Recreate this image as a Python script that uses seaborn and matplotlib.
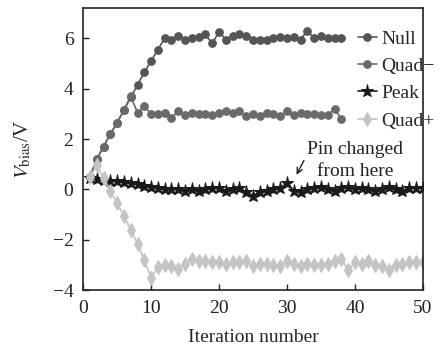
import seaborn as sns
from matplotlib import pyplot as plt
import pandas as pd

# values
null_vals = [0.5, 1.2, 1.7, 2.2, 2.65, 3.15, 3.65, 4.15, 4.65, 5.1, 5.55,
             6.0, 5.95, 6.1, 5.95, 6.0, 6.05, 6.15, 5.8, 6.25, 5.95, 6.1, 6.15,
             6.1, 5.95, 5.95, 5.95, 6.0, 6.05, 6.0, 6.05, 5.95, 6.3, 6.0, 6.1,
             6.0, 6.0, 6.0]
quad_minus = [0.5, 1.2, 1.7, 2.2, 2.65, 3.15, 3.7, 3.05, 3.3, 3.0, 3.0,
              3.05, 2.85, 3.1, 2.95, 3.05, 3.0, 3.0, 2.95, 3.05, 3.1, 3.05, 3.1,
              2.9, 3.0, 2.9, 3.05, 3.0, 2.9, 3.1, 2.95, 3.05, 3.0, 3.0, 2.95,
              2.95, 3.2, 2.8]
peak_vals = [0.45, 0.4, 0.38, 0.35, 0.32, 0.28, 0.25, 0.2, 0.15, 0.1, 0.05,
             0.03, 0.0, 0.0, -0.05, 0.0, -0.05, 0.0, 0.05, 0.05, -0.05, 0.0,
             0.05, -0.1, -0.25, -0.1, -0.05, 0.0, 0.05, 0.25, -0.05, -0.1, 0.0,
             0.05, 0.1, 0.0, -0.05, 0.05, 0.1, 0.0, 0.05, 0.0, -0.05, 0.0, 0.1,
             0.0, -0.05, 0.05, 0.05, 0.05]
quad_plus = [0.5, 0.95, 0.45, -0.05, -0.55, -1.05, -1.6, -2.15, -2.8, -3.5,
             -3.1, -3.0, -3.05, -3.15, -2.95, -2.75, -2.85, -2.85, -2.9, -2.9,
             -2.95, -2.9, -2.9, -2.85, -3.05, -2.95, -2.95, -3.0, -3.05, -2.85,
             -2.95, -3.05, -2.95, -3.0, -3.0, -2.95, -2.85, -2.75, -3.2, -2.9,
             -2.95, -2.85, -3.0, -3.05, -3.2, -3.0, -2.95, -2.9, -2.9, -2.9]

sns.set_style('ticks')
plt.rcParams['font.family'] = ['Liberation Serif', 'DejaVu Serif']
plt.rcParams['mathtext.fontset'] = 'stix'

fig = plt.figure(figsize=(4.4, 3.5), dpi=100)
ax = fig.add_axes([0.189, 0.171, 0.772, 0.806])

series = [
    ('Null', null_vals, '#555555', 'o', 5.5),
    ('Quad\u2212', quad_minus, '#6a6a6a', 'o', 5.5),
    ('Peak', peak_vals, '#1a1a1a', '*', 9.5),
    ('Quad+', quad_plus, '#c4c4c4', 'd', 7),
]
for name, vals, color, marker, ms in series:
    df = pd.DataFrame({'iter': range(1, len(vals) + 1), 'v': vals})
    sns.lineplot(data=df, x='iter', y='v', ax=ax, color=color, marker=marker,
                 markersize=ms, markeredgecolor=color, linewidth=1.2, label=name)

ax.set_xlim(0, 50)
ax.set_ylim(-4, 7.2)
ax.set_xticks([0, 10, 20, 30, 40, 50])
ax.set_yticks([-4, -2, 0, 2, 4, 6])
ax.set_yticklabels(['\u22124', '\u22122', '0', '2', '4', '6'])
ax.tick_params(direction='in', labelsize=14, length=4, width=1, pad=7,
               colors='#222222')
for s in ax.spines.values():
    s.set_linewidth(1.2)
    s.set_color('#222222')

ax.set_xlabel('Iteration number', fontsize=14, labelpad=9)
ax.set_ylabel(r'$V_{\rm bias}$/V', fontsize=15, labelpad=14)

ax.text(40, 1.15, 'Pin changed\nfrom here', ha='center', va='center',
        fontsize=14, linespacing=1.35, color='#222222')
ax.annotate('', xy=(31.4, 0.58), xytext=(32.5, 1.15),
            arrowprops=dict(arrowstyle='->', color='#222222', lw=1,
                            shrinkA=0, shrinkB=0))

leg = ax.legend(loc='upper left', bbox_to_anchor=(0.785, 0.95), frameon=False,
                fontsize=14, handlelength=1.0, handletextpad=0.2,
                labelspacing=0.5, borderaxespad=0)
leg.set_clip_on(False)

fig.savefig('out.png', dpi=100)
